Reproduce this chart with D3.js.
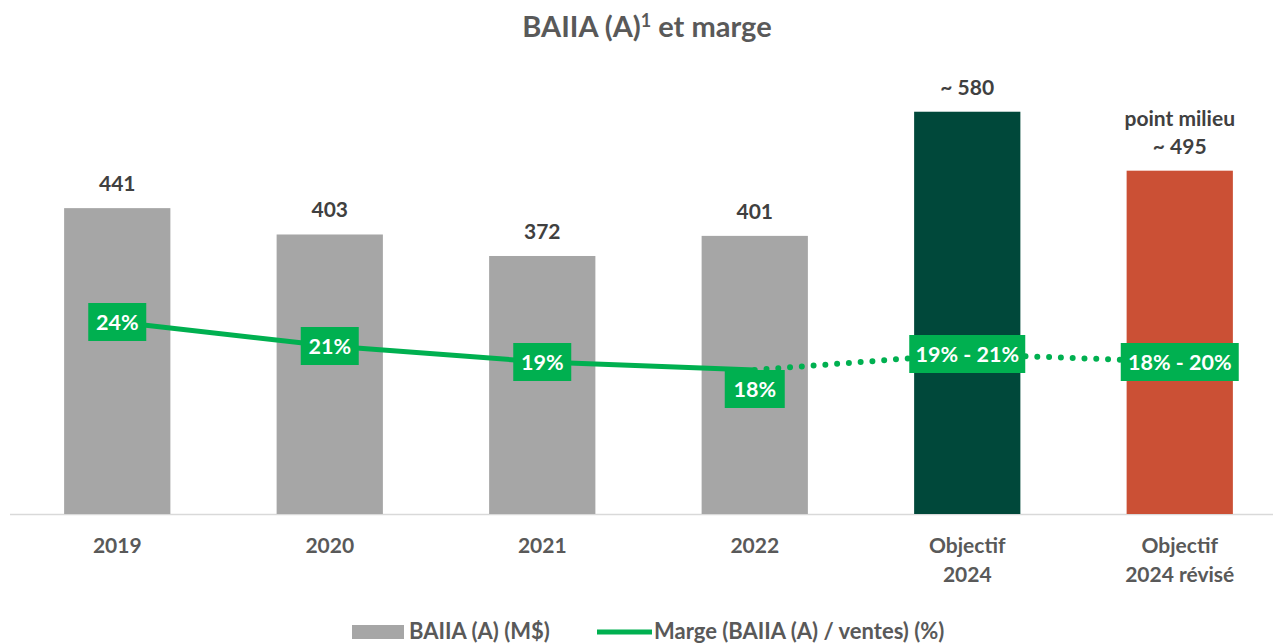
<!DOCTYPE html>
<html>
<head>
<meta charset="utf-8">
<script src="https://cdn.jsdelivr.net/npm/d3@7"></script>
<style>
  body { margin: 0; background: #fff; }
  svg text { font-family: Lato, "Open Sans", sans-serif; font-weight: bold; }
</style>
</head>
<body>
<div id="chart"></div>
<script>
const W = 1273;
const H = 644;

const categories = ["2019", "2020", "2021", "2022", "Objectif\n2024", "Objectif\n2024 révisé"];
const baiia = [441, 403, 372, 401, 580, 495];
const baiiaLabels = ["441", "403", "372", "401", "~ 580", "point milieu\n~ 495"];
const barColors = ["#A6A6A6", "#A6A6A6", "#A6A6A6", "#A6A6A6", "#00483A", "#CB5035"];
const marge = [24, 21, 19, 18, 20, 19];
const margeLabels = ["24%", "21%", "19%", "18%", "19% - 21%", "18% - 20%"];
const green = "#00B050";

const svg = d3.select("#chart")
  .append("svg")
  .attr("width", W)
  .attr("height", H);

svg.append("text")
  .attr("x", 647)
  .attr("y", 37)
  .attr("text-anchor", "middle")
  .attr("fill", "#595959")
  .style("font-size", "29px")
  .html('BAIIA (A)<tspan dy="-10" style="font-size:18px">1</tspan><tspan dy="10"> et marge</tspan>');

const x = d3.scaleBand()
  .domain(categories)
  .range([11, 1286])
  .paddingInner(0.5)
  .paddingOuter(0.25);

const y = d3.scaleLinear().domain([0, 700]).range([514, 28.5]);
const y2 = d3.scaleLinear().domain([0, 60]).range([514, 34]);

// axis line
svg.append("line")
  .attr("x1", 10).attr("x2", W)
  .attr("y1", 514.5).attr("y2", 514.5)
  .attr("stroke", "#D9D9D9")
  .attr("stroke-width", 1.5);

svg.selectAll("rect.bar")
  .data(baiia)
  .enter()
  .append("rect")
  .attr("class", "bar")
  .attr("x", (d, i) => x(categories[i]))
  .attr("width", x.bandwidth())
  .attr("y", (d) => y(d))
  .attr("height", (d) => y(0) - y(d))
  .attr("fill", (d, i) => barColors[i]);

// value labels
baiiaLabels.forEach((lbl, i) => {
  const lines = lbl.split("\n");
  const cx = x(categories[i]) + x.bandwidth() / 2;
  const base = y(baiia[i]) - 17;
  lines.forEach((t, j) => {
    svg.append("text")
      .attr("x", cx)
      .attr("y", base - (lines.length - 1 - j) * 28)
      .attr("text-anchor", "middle")
      .attr("fill", "#404040")
      .style("font-size", "21px")
      .text(t);
  });
});

// category labels
categories.forEach((c, i) => {
  const cx = x(c) + x.bandwidth() / 2;
  c.split("\n").forEach((t, j) => {
    svg.append("text")
      .attr("x", cx)
      .attr("y", 553 + j * 29)
      .attr("text-anchor", "middle")
      .attr("fill", "#595959")
      .style("font-size", "21px")
      .text(t);
  });
});

const cxOf = (i) => x(categories[i]) + x.bandwidth() / 2;

// solid line for actuals, dotted for targets
const line = d3.line().x((d) => cxOf(d.i)).y((d) => y2(d.v));
const pts = marge.map((v, i) => ({ v, i }));

svg.append("path")
  .attr("d", line(pts.slice(0, 4)))
  .attr("fill", "none")
  .attr("stroke", green)
  .attr("stroke-width", 5);

svg.append("path")
  .attr("d", line(pts.slice(3)))
  .attr("fill", "none")
  .attr("stroke", green)
  .attr("stroke-width", 6)
  .attr("stroke-linecap", "round")
  .attr("stroke-dasharray", "0 11.8");

// margin labels
const labelOffset = [0, 0, 0, 19, 0, 0];
const labelW = [58, 58, 58, 60, 116, 118];
margeLabels.forEach((t, i) => {
  const cx = cxOf(i);
  const cy = y2(marge[i]) + labelOffset[i];
  const g = svg.append("g");
  g.append("rect")
    .attr("x", cx - labelW[i] / 2)
    .attr("y", cy - 19)
    .attr("width", labelW[i])
    .attr("height", 38)
    .attr("fill", green);
  g.append("text")
    .attr("x", cx)
    .attr("y", cy + 7.5)
    .attr("text-anchor", "middle")
    .attr("fill", "#fff")
    .style("font-size", "21.5px")
    .text(t);
});

// legend
const legend = svg.append("g");
legend.append("rect")
  .attr("x", 352).attr("y", 625)
  .attr("width", 52).attr("height", 14)
  .attr("fill", "#A6A6A6");
legend.append("text")
  .attr("x", 409).attr("y", 638.5)
  .attr("fill", "#595959")
  .style("font-size", "22px")
  .text("BAIIA (A) (M$)");
legend.append("line")
  .attr("x1", 597).attr("x2", 652)
  .attr("y1", 632).attr("y2", 632)
  .attr("stroke", green)
  .attr("stroke-width", 5);
legend.append("text")
  .attr("x", 654).attr("y", 638.5)
  .attr("fill", "#595959")
  .style("font-size", "22px")
  .text("Marge (BAIIA (A) / ventes) (%)");
</script>
</body>
</html>
